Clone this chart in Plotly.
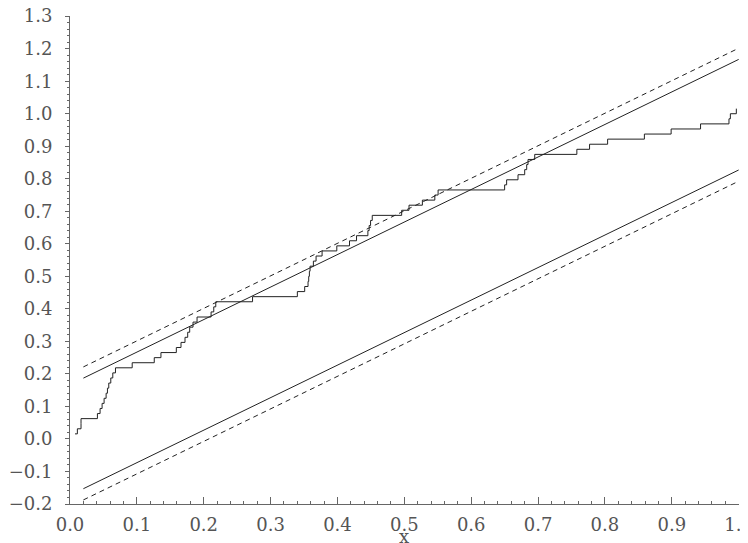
import plotly.graph_objects as go

# sorted sample values read from the empirical CDF steps
samples = [
    0.0075, 0.011, 0.0165, 0.0165, 0.041, 0.045, 0.048, 0.051, 0.054, 0.056,
    0.058, 0.061, 0.064, 0.068, 0.093, 0.126, 0.136, 0.159, 0.166, 0.172,
    0.176, 0.179, 0.184, 0.190, 0.211, 0.215, 0.218, 0.273, 0.340, 0.351,
    0.356, 0.357, 0.358, 0.359, 0.364, 0.368, 0.377, 0.399, 0.418, 0.4285,
    0.4455, 0.4474, 0.4495, 0.452, 0.496, 0.507, 0.527, 0.5456, 0.5505, 0.650,
    0.653, 0.670, 0.680, 0.683, 0.685, 0.695, 0.758, 0.777, 0.804, 0.859,
    0.899, 0.943, 0.9855, 0.9876, 0.9965,
]
n_denom = 64

# confidence band end points
band_x = [0.02, 1.0]
upper95 = [0.187, 1.167]
lower95 = [-0.153, 0.827]
upper99 = [0.2215, 1.2015]
lower99 = [-0.1875, 0.7925]

ecdf_y = [(i + 1) / n_denom for i in range(len(samples))]

line_col = "#222222"
axis_col = "#666666"
font = dict(family="DejaVu Serif", size=18, color="#555555")

fig = go.Figure()
fig.add_trace(go.Scatter(x=samples, y=ecdf_y, mode="lines",
                         line=dict(color=line_col, width=1, shape="hv")))
for ys in (upper95, lower95):
    fig.add_trace(go.Scatter(x=band_x, y=ys, mode="lines",
                             line=dict(color=line_col, width=1)))
for ys in (upper99, lower99):
    fig.add_trace(go.Scatter(x=band_x, y=ys, mode="lines",
                             line=dict(color=line_col, width=1, dash="5px,4px")))

# page body has an 8px margin, so the figure is 8px smaller on each side
fig.update_layout(
    width=740, height=535,
    margin=dict(l=62, r=9, t=8, b=39),
    plot_bgcolor="white", paper_bgcolor="white",
    showlegend=False, hovermode=False,
    font=font,
)
fig.update_xaxes(
    range=[0, 1.0005], dtick=0.1, tick0=0, tickformat=".1f",
    showgrid=False, zeroline=False, automargin=False,
    showline=True, linecolor=axis_col, linewidth=1,
    ticks="inside", ticklen=7, tickcolor=axis_col,
    minor=dict(dtick=0.02, ticks="inside", ticklen=3, tickcolor=axis_col),
    ticklabelstandoff=4, ticklabeloverflow="allow",
)
fig.update_yaxes(
    range=[-0.2, 1.3005], dtick=0.1, tick0=0, tickformat=".1f",
    showgrid=False, zeroline=False, automargin=False,
    showline=True, linecolor=axis_col, linewidth=1,
    ticks="outside", ticklen=4, tickcolor=axis_col,
    minor=dict(dtick=0.02, ticks="outside", ticklen=2, tickcolor=axis_col),
    ticklabelstandoff=9, ticklabeloverflow="allow",
)
fig.add_annotation(text="x", x=0.5, xref="x", y=0, yref="paper",
                   yanchor="top", yshift=-20, showarrow=False, font=font)

fig.write_html("out.html")
